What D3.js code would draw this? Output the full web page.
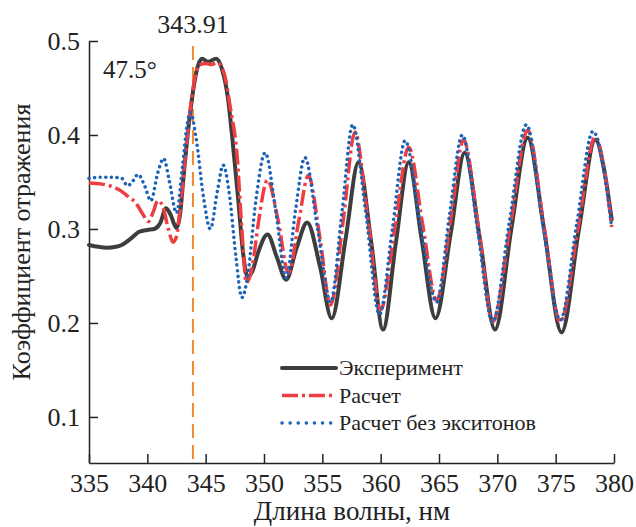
<!DOCTYPE html>
<html>
<head>
<meta charset="utf-8">
<script src="https://cdn.jsdelivr.net/npm/d3@7"></script>
<style>
  body { margin: 0; background: #fff; }
  .axis path, .axis line { stroke: #222; stroke-width: 1.5; }
</style>
</head>
<body>
<div id="chart"></div>
<script>
// wavelength (nm) / reflectance
const expX = [335.0, 335.8, 336.5, 337.3, 337.8, 338.6, 339.3, 340.0, 340.6, 341.1, 341.6, 342.0, 342.5, 342.8, 343.1, 343.5, 343.9, 344.3, 344.7, 345.2, 345.9, 346.4, 346.9, 347.3, 347.8, 348.2, 348.6, 349.0, 349.5, 350.3, 351.1, 351.9, 352.8, 353.7, 354.8, 355.8, 357.0, 358.1, 359.2, 360.2, 361.3, 362.4, 363.5, 364.7, 366.0, 367.2, 368.5, 369.8, 371.2, 372.6, 374.0, 375.5, 377.0, 378.4, 379.2, 379.8];
const expY = [0.283, 0.281, 0.280, 0.281, 0.283, 0.290, 0.297, 0.299, 0.300, 0.306, 0.322, 0.315, 0.301, 0.315, 0.355, 0.405, 0.445, 0.472, 0.481, 0.478, 0.481, 0.470, 0.440, 0.395, 0.330, 0.275, 0.249, 0.255, 0.275, 0.294, 0.270, 0.246, 0.280, 0.307, 0.260, 0.205, 0.290, 0.371, 0.285, 0.193, 0.285, 0.371, 0.290, 0.205, 0.295, 0.381, 0.290, 0.193, 0.300, 0.397, 0.300, 0.190, 0.300, 0.395, 0.360, 0.310];

const calcX = [335.0, 336.0, 337.0, 337.8, 338.4, 339.0, 339.6, 340.1, 340.5, 340.9, 341.3, 341.8, 342.2, 342.5, 342.8, 343.2, 343.6, 344.0, 344.4, 345.0, 345.5, 346.0, 346.6, 347.1, 347.7, 348.1, 348.5, 349.0, 349.5, 350.3, 351.2, 352.1, 353.0, 353.8, 354.8, 355.7, 356.8, 357.8, 358.9, 360.0, 361.2, 362.4, 363.6, 364.8, 366.0, 367.1, 368.4, 369.6, 371.1, 372.6, 374.0, 375.4, 376.9, 378.4, 379.2, 379.8];
const calcY = [0.349, 0.348, 0.345, 0.340, 0.334, 0.328, 0.316, 0.308, 0.318, 0.330, 0.325, 0.300, 0.286, 0.292, 0.320, 0.370, 0.420, 0.455, 0.474, 0.476, 0.475, 0.477, 0.465, 0.430, 0.377, 0.300, 0.243, 0.260, 0.305, 0.352, 0.310, 0.253, 0.310, 0.357, 0.290, 0.219, 0.310, 0.403, 0.310, 0.214, 0.300, 0.387, 0.305, 0.224, 0.310, 0.395, 0.300, 0.201, 0.303, 0.405, 0.303, 0.201, 0.300, 0.398, 0.360, 0.302];

const noExcX = [335.0, 336.0, 337.0, 337.8, 338.3, 338.7, 339.2, 339.8, 340.3, 340.9, 341.4, 341.9, 342.5, 343.0, 343.4, 343.7, 344.2, 344.8, 345.4, 346.0, 346.5, 347.0, 347.6, 348.1, 348.6, 349.3, 350.1, 351.0, 351.9, 352.7, 353.5, 354.6, 355.7, 356.7, 357.6, 358.7, 359.9, 361.0, 362.1, 363.4, 364.8, 365.9, 367.0, 368.3, 369.6, 371.0, 372.5, 373.9, 375.4, 376.8, 378.2, 379.1, 379.8];
const noExcY = [0.354, 0.355, 0.355, 0.354, 0.346, 0.350, 0.358, 0.345, 0.330, 0.360, 0.375, 0.350, 0.317, 0.365, 0.410, 0.424, 0.395, 0.335, 0.300, 0.340, 0.368, 0.340, 0.270, 0.227, 0.250, 0.330, 0.381, 0.320, 0.248, 0.320, 0.376, 0.300, 0.222, 0.320, 0.411, 0.320, 0.209, 0.300, 0.394, 0.305, 0.222, 0.315, 0.400, 0.300, 0.201, 0.305, 0.411, 0.305, 0.203, 0.305, 0.404, 0.365, 0.302];

const xTicks = [335, 340, 345, 350, 355, 360, 365, 370, 375, 380];
const yTicks = [0.1, 0.2, 0.3, 0.4, 0.5];
const markerX = 343.91;
const seriesNames = ["Эксперимент", "Расчет", "Расчет без экситонов"];

const width = 636, height = 527;
const margin = { left: 89, right: 614, top: 41, bottom: 463 };
const serif = '"Liberation Serif"';

const svg = d3.select("#chart").append("svg")
  .attr("width", width)
  .attr("height", height);

const x = d3.scaleLinear().domain([335, 380]).range([margin.left, margin.right]);
const y = d3.scaleLinear().domain([0.051, 0.5]).range([margin.bottom, margin.top]);

// axes, ticks pointing inside
svg.append("g")
  .attr("class", "axis")
  .attr("transform", `translate(0,${margin.bottom})`)
  .call(d3.axisBottom(x).tickValues(xTicks).tickSizeInner(-9).tickSizeOuter(0).tickPadding(11).tickFormat(d3.format("d")));

svg.append("g")
  .attr("class", "axis")
  .attr("transform", `translate(${margin.left},0)`)
  .call(d3.axisLeft(y).tickValues(yTicks).tickSizeInner(-9).tickSizeOuter(0).tickPadding(9).tickFormat(d3.format(".1f")));

svg.selectAll(".axis").attr("font-family", "Liberation Serif").attr("font-size", 26);
svg.selectAll(".axis text").attr("fill", "#222");

// orange marker line
svg.append("line")
  .attr("x1", x(markerX)).attr("x2", x(markerX))
  .attr("y1", 46).attr("y2", margin.bottom)
  .attr("stroke", "#f28a30")
  .attr("stroke-width", 2)
  .attr("stroke-dasharray", "14 7");

function label(sel, size) {
  return sel.style("font-family", serif).style("font-size", size + "px").attr("fill", "#222");
}

label(svg.append("text"), 26)
  .attr("x", x(markerX))
  .attr("y", 33)
  .attr("text-anchor", "middle")
  .text(markerX.toFixed(2));

label(svg.append("text"), 25)
  .attr("x", 103)
  .attr("y", 78)
  .text("47.5°");

const line = d3.line()
  .x(d => x(d[0]))
  .y(d => y(d[1]))
  .curve(d3.curveMonotoneX);

const styles = [
  { color: "#3d3d3d", w: 4, dash: null, cap: "round" },
  { color: "#ef3e42", w: 3.5, dash: "16 4 3 4", cap: "butt" },
  { color: "#1f63b8", w: 3.5, dash: "0.1 5.5", cap: "round" }
];

const series = [
  d3.zip(expX, expY),
  d3.zip(calcX, calcY),
  d3.zip(noExcX, noExcY)
];

series.forEach((s, i) => {
  svg.append("path")
    .datum(s)
    .attr("fill", "none")
    .attr("stroke", styles[i].color)
    .attr("stroke-width", styles[i].w)
    .attr("stroke-linecap", styles[i].cap)
    .attr("stroke-dasharray", styles[i].dash)
    .attr("d", line);
});

// legend
const legend = svg.append("g").attr("transform", "translate(282,368)");
seriesNames.forEach((name, i) => {
  const row = legend.append("g").attr("transform", `translate(0,${i * 27.5})`);
  row.append("line")
    .attr("x1", 0).attr("x2", 54)
    .attr("stroke", styles[i].color)
    .attr("stroke-width", styles[i].w)
    .attr("stroke-linecap", styles[i].cap)
    .attr("stroke-dasharray", i === 2 ? "0.1 8" : styles[i].dash);
  label(row.append("text"), 22)
    .attr("x", 57)
    .attr("dy", "0.33em")
    .text(name);
});

// axis titles
label(svg.append("text"), 27)
  .attr("x", 352)
  .attr("y", 520)
  .attr("text-anchor", "middle")
  .text("Длина волны, нм");

label(svg.append("text"), 26)
  .attr("transform", "translate(30,242) rotate(-90)")
  .attr("text-anchor", "middle")
  .text("Коэффициент отражения");
</script>
</body>
</html>
